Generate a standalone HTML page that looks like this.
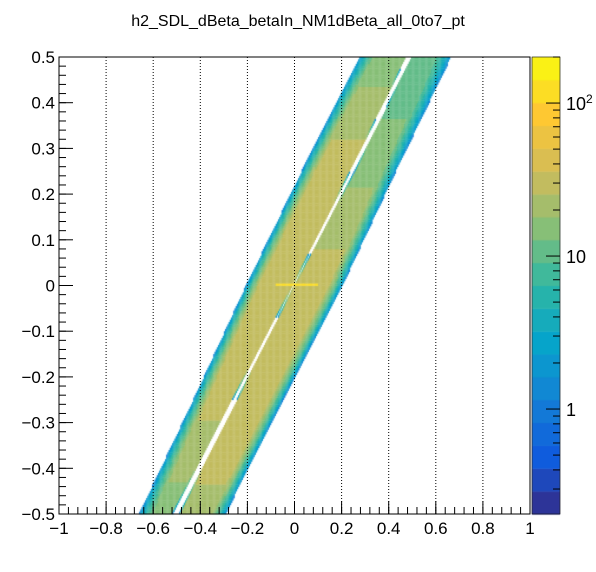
<!DOCTYPE html>
<html><head><meta charset="utf-8"><style>
body{margin:0;background:#fff;width:596px;height:572px;overflow:hidden;font-family:"Liberation Sans",sans-serif}
#wrap{position:relative;width:596px;height:572px}
canvas,svg{position:absolute;left:0;top:0}
</style></head><body>
<div id="wrap">
<canvas id="hist" width="596" height="572"></canvas>
<svg id="ax" width="596" height="572"></svg>
</div>
<script>
// data: band geometry per y knot (data coordinates)
const yKnots=[-0.5,-0.25,0,0.25,0.5];
const leftEdge=[-0.66,-0.43,-0.206,0.03,0.276];
const gapLeft=[-0.52,-0.265,-0.008,0.235,0.474];
const gapRight=[-0.49,-0.245,-0.002,0.255,0.496];
const rightEdge=[-0.294,-0.05,0.203,0.43,0.664];
const peakLeft=[14,28,35,30,14];
const peakRight=[22,35,30,16,9];
const spikeX=[-0.08,0.1];
const spikeCount=[120];
const xTicks=[-1,-0.8,-0.6,-0.4,-0.2,0,0.2,0.4,0.6,0.8,1];
const xTickLabels=["\u22121","\u22120.8","\u22120.6","\u22120.4","\u22120.2","0","0.2","0.4","0.6","0.8","1"];
const yTicks=[-0.5,-0.4,-0.3,-0.2,-0.1,0,0.1,0.2,0.3,0.4,0.5];
const yTickLabels=["\u22120.5","\u22120.4","\u22120.3","\u22120.2","\u22120.1","0","0.1","0.2","0.3","0.4","0.5"];
const zMin=0.206,zMax=200;

const X0=59,X1=530,Y0=57,Y1=514;
const sx=v=>X0+(v+1)/2*(X1-X0);
const sy=v=>Y1-(v+0.5)*(Y1-Y0);
const CB0=532,CB1=560;
const sz=v=>Y1-(Math.log10(v)-Math.log10(zMin))/(Math.log10(zMax)-Math.log10(zMin))*(Y1-Y0);
function interp(arr,y){
  for(let i=0;i<yKnots.length-1;i++){
    if(y<=yKnots[i+1]||i==yKnots.length-2){
      const t=(y-yKnots[i])/(yKnots[i+1]-yKnots[i]);
      return arr[i]+(arr[i+1]-arr[i])*t;
    }
  }
}
const stops=[[0.2082,0.1664,0.5293],[0.0592,0.3599,0.8684],[0.0780,0.5041,0.8385],[0.0232,0.6419,0.7914],[0.1802,0.7178,0.6425],[0.5301,0.7492,0.4662],[0.8186,0.7328,0.3499],[0.9956,0.7862,0.1968],[0.9764,0.9832,0.0539]];
function bird(f){
  f=Math.max(0,Math.min(1,f));
  const p=f*8,i=Math.min(7,Math.floor(p)),t=p-i;
  const c=stops[i].map((a,k)=>Math.round(255*(a+(stops[i+1][k]-a)*t)));
  return `rgb(${c[0]},${c[1]},${c[2]})`;
}
const NL=20;
function colorFor(v){
  const f=(Math.log10(v)-Math.log10(zMin))/(Math.log10(zMax)-Math.log10(zMin));
  const lvl=Math.max(0,Math.min(NL-1,Math.floor(f*NL)));
  return bird((lvl+0.5)/NL);
}
function prof(d,peak){
  const t=Math.min(1,d/0.06);
  return Math.pow(10,Math.log10(1.0)+(Math.log10(peak)-Math.log10(1.0))*Math.pow(t,0.55));
}
const cv=document.getElementById('hist'),ctx=cv.getContext('2d');
const nx=400,ny=200,bw=2/nx,bh=1/ny;
for(let j=0;j<ny;j++){
  const y=-0.5+(j+0.5)*bh;
  const L=interp(leftEdge,y),G1=interp(gapLeft,y),G2=interp(gapRight,y),R=interp(rightEdge,y);
  const pL=interp(peakLeft,y),pR=interp(peakRight,y);
  for(let i=0;i<nx;i++){
    const x=-1+(i+0.5)*bw;let v=0;
    if(x>=L&&x<=G1)v=prof(Math.min(x-L,(G1-x)*30),pL);
    else if(x>=G2&&x<=R)v=prof(Math.min((x-G2)*30,R-x),pR);
    if(y>0&&y<bh&&x>=spikeX[0]&&x<=spikeX[1])v=spikeCount[0];
    if(v<=0)continue;
    ctx.fillStyle=colorFor(v);
    const px=sx(x-bw/2),py=sy(y+bh/2);
    ctx.fillRect(px,py,sx(x+bw/2)-px+0.3,sy(y-bh/2)-py+0.3);
  }
}
// colorbar
for(let l=0;l<NL;l++){
  const lo=Y1-(l/NL)*(Y1-Y0),hi=Y1-((l+1)/NL)*(Y1-Y0);
  ctx.fillStyle=bird((l+0.5)/NL);
  ctx.fillRect(CB0,hi,CB1-CB0,lo-hi+0.5);
}
const svg=document.getElementById('ax');const NS='http://www.w3.org/2000/svg';
function el(tag,attrs,name){const e=document.createElementNS(NS,tag);for(const k in attrs)e.setAttribute(k,attrs[k]);


svg.appendChild(e);return e;}
el('rect',{x:X0,y:Y0,width:X1-X0,height:Y1-Y0,fill:'none',stroke:'#000','stroke-width':1},'plot-frame');
xTicks.forEach((v,k)=>{
  if(k>0&&k<xTicks.length-1)el('line',{x1:sx(v),x2:sx(v),y1:Y0,y2:Y1,stroke:'#000','stroke-dasharray':'1,2','stroke-width':1},'x-gridline');
  el('line',{x1:sx(v),x2:sx(v),y1:Y1,y2:Y1-13,stroke:'#000'},'x-major-tick');
  const t=el('text',{x:sx(v),y:Y1+20,'text-anchor':'middle','font-size':17},'x-tick-label');t.textContent=xTickLabels[k];
});
for(let v=-1;v<1-1e-9;v+=0.04){el('line',{x1:sx(v),x2:sx(v),y1:Y1,y2:Y1-7,stroke:'#000'},'x-minor-tick');}
yTicks.forEach((v,k)=>{
  el('line',{x1:X0,x2:X0+14,y1:sy(v),y2:sy(v),stroke:'#000'},'y-major-tick');
  const t=el('text',{x:X0-4,y:sy(v)+6,'text-anchor':'end','font-size':17},'y-tick-label');t.textContent=yTickLabels[k];
});
for(let v=-0.5;v<0.5-1e-9;v+=0.02){el('line',{x1:X0,x2:X0+7,y1:sy(v),y2:sy(v),stroke:'#000'},'y-minor-tick');}
el('rect',{x:CB0,y:Y0,width:CB1-CB0,height:Y1-Y0,fill:'none',stroke:'#000','stroke-width':0.6},'colorbar-frame');
[0.3,0.4,0.5,0.6,0.7,0.8,0.9,1,2,3,4,5,6,7,8,9,10,20,30,40,50,60,70,80,90,100,200].forEach(v=>{
  if(v<zMin||v>zMax)return;const maj=(v==1||v==10||v==100);
  el('line',{x1:CB1,x2:CB1-(maj?14:7),y1:sz(v),y2:sz(v),stroke:'#000'},'colorbar-tick');
});
[[1,'1'],[10,'10'],[100,'10']].forEach(([v,s])=>{
  const t=el('text',{x:CB1+6,y:sz(v)+7,'font-size':18},'colorbar-label');t.textContent=s;
  if(v==100){const ts=document.createElementNS(NS,'tspan');ts.setAttribute('dy','-7');ts.setAttribute('font-size','12');ts.textContent='2';t.appendChild(ts);}
});
const title=el('text',{x:298,y:26,'text-anchor':'middle','font-size':16},'chart-title');title.textContent='h2_SDL_dBeta_betaIn_NM1dBeta_all_0to7_pt';
</script>
</body></html>
